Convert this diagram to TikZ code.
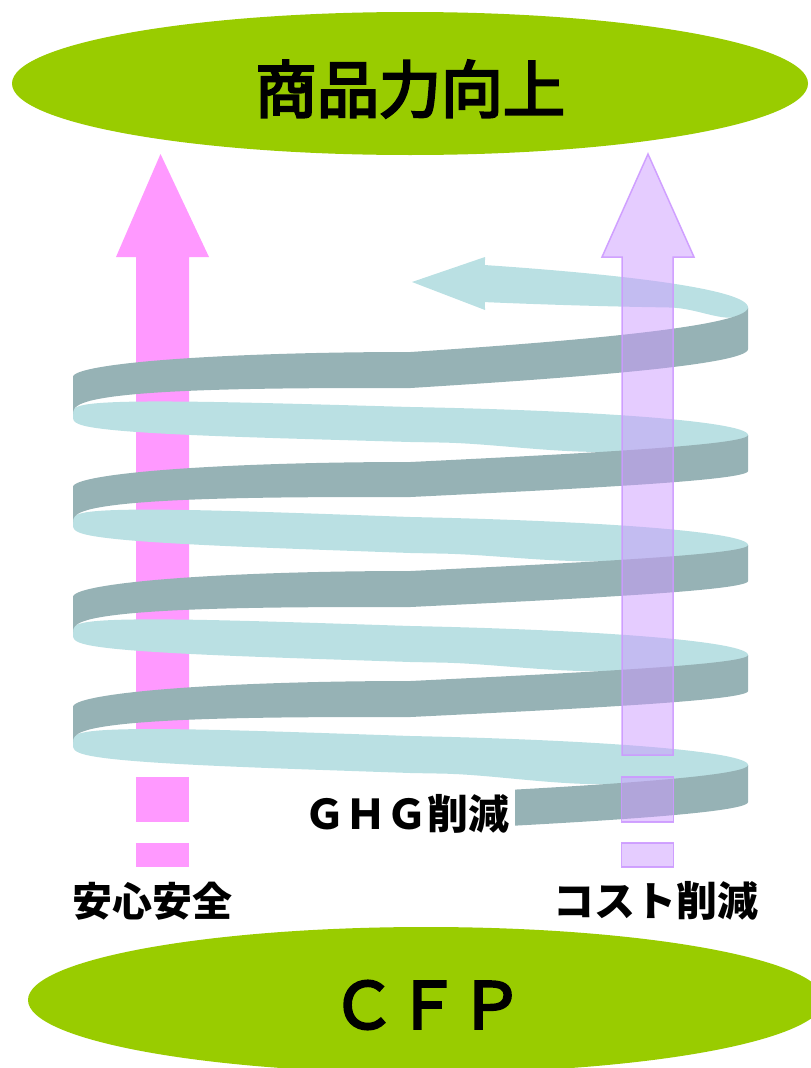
\documentclass[tikz,border=0pt]{standalone}
\usepackage{fontspec}
\newfontfamily\jp{Noto Sans CJK JP}
\newfontfamily\jpm{Noto Sans CJK JP}[FakeBold=4]
\definecolor{lime}{HTML}{99CC00}
\definecolor{pinkc}{HTML}{FF99FF}
\definecolor{purp}{HTML}{CC99FF}
\definecolor{grayc}{RGB}{150,178,181}
\definecolor{cyanc}{RGB}{186,224,227}
\newcommand\gband[6]{% Rt Rb Mt Mb Lt Lb
 \fill[grayc] plot[domain=0:90] ({hx(\x)},{hel(\x,#1,#3,#5)})
  -- plot[domain=0:90] ({lx(\x)},{qtop(\x,#3,#5)})
  -- plot[domain=90:0] ({lx(\x)},{qbot(\x,#4,#6)})
  -- plot[domain=90:0] ({hx(\x)},{hel(\x,#2,#4,#6)}) -- cycle;}
\newcommand\cband[9]{% yL yR Mtop Mbot R' M' L' blendA blendB
 \fill[cyanc] plot[domain=0:90] ({hx(\x)},{hel(\x,#2,#3,#1)})
  -- plot[domain=0:90] ({lx(\x)},{#1+((#3+#4)/2-#1)*(1-sin(\x))-((#4-#3)/2)*se(\x,4)})
  -- plot[domain=90:0] ({lx(\x)},{#1+((#3+#4)/2-#1)*(1-sin(\x))+((#4-#3)/2)*se(\x,4)})
  -- plot[domain=90:0] ({hx(\x)},{(1-sm(\x,#8,#9))*hel(\x,#2,#4,#1)+sm(\x,#8,#9)*(hel(\x,#5,#6,#7)+1.5)}) -- cycle;}
\begin{document}
\begin{tikzpicture}[x=1pt,y=-1pt,samples=45,
 declare function={
  hx(\Ang)=410.5+337.5*cos(\Ang);
  lx(\Ang)=410.5-337.5*sin(\Ang);
  hel(\Ang,\Ra,\Ma,\La)=\Ra+(\Ma-(\Ra+\La)/2)*sin(\Ang)+(\La-\Ra)*\Ang/180;
  se(\Ang,\Na)=pow(max(1-pow(sin(\Ang),\Na),0.00001),1/\Na);
  qtop(\Ang,\Ma,\La)=\La-(\La-\Ma)*cos(\Ang);
  qbot(\Ang,\Ma,\La)=\La-(\La-\Ma)*se(\Ang,3);
  bw(\Ang,\Aa,\Ba)=min(max((\Aa-\Ang)/(\Aa-\Ba),0),1);
  sm(\Ang,\Aa,\Ba)=bw(\Ang,\Aa,\Ba)*bw(\Ang,\Aa,\Ba)*(3-2*bw(\Ang,\Aa,\Ba));
 },
 lbl/.style={inner sep=0pt,font=\jp\bfseries\fontsize{41}{41}\selectfont}]
\useasboundingbox (0,0) rectangle (811,1068);
\clip (0,0) rectangle (811,1068);
% ellipses
\fill[lime] (410,83.5) ellipse [x radius=398pt, y radius=71.5pt];
\fill[lime] (426,1000) ellipse [x radius=398pt, y radius=73pt];
% pink arrow (behind coil)
\fill[pinkc] (136,755) -- (136,257) -- (116,257) -- (160.5,154) -- (209,257) -- (189,257) -- (189,755) -- cycle;
\fill[pinkc] (136,777) rectangle (189,822);
\fill[pinkc] (136,843) rectangle (189,867);
% cyan top arrow
\fill[cyanc] plot[domain=0:77.25] ({hx(\x)},{hel(\x,307.5,260.5,249.6)}) -- (485,257) -- (412,282) -- (485,310)
  -- plot[domain=77.25:0] ({hx(\x)},{(1-sm(\x,40,12))*hel(\x,307.5,298.5,249.6)+sm(\x,40,12)*(hel(\x,307.5,352,377)+1.5)}) -- cycle;
% cyan back bands
\cband{415}{435}{407}{442}{435}{462}{487}{85}{47}
\cband{523}{545}{517}{553}{545}{571}{597}{85}{47}
\cband{633}{655}{626}{662}{655}{681}{707}{85}{47}
\cband{743}{765}{736}{773}{765}{795}{817}{85}{47}
% gray front bands
\gband{307.5}{349}{352}{388}{377}{415}
\gband{435}{471}{462}{497}{487}{523}
\gband{545}{581}{571}{607}{597}{633}
\gband{655}{691}{681}{717}{707}{743}
\fill[grayc] plot[domain=0:71.96] ({hx(\x)},{hel(\x,765,795,817)})
  -- plot[domain=71.96:0] ({hx(\x)},{hel(\x,802,831,854)}) -- cycle;
% purple arrow (translucent, in front)
\begin{scope}[draw=purp, line width=1.5pt, fill=purp, fill opacity=0.5, draw opacity=0.9]
\filldraw (622,755) -- (622,257) -- (602,257) -- (648,154) -- (694,257) -- (673,257) -- (673,755) -- cycle;
\filldraw (621.5,777) rectangle (673.5,822);
\filldraw (621.5,843) rectangle (673.5,867);
\end{scope}
% labels
\node[inner sep=0pt,font=\jpm\fontsize{62}{62}\selectfont] (title) at (410,89) {商品力向上};
\node[lbl] (ghg) at (407,814) {ＧＨＧ削減};
\node[lbl,font=\jp\bfseries\fontsize{40}{40}\selectfont] (anshin) at (152.5,901) {安心安全};
\node[lbl] (cost) at (655.5,901) {コスト削減};
\node[inner sep=0pt,font=\jpm\fontsize{64}{64}\selectfont] (cfp) at (427.5,1005) {ＣＦＰ};
\end{tikzpicture}
\end{document}
